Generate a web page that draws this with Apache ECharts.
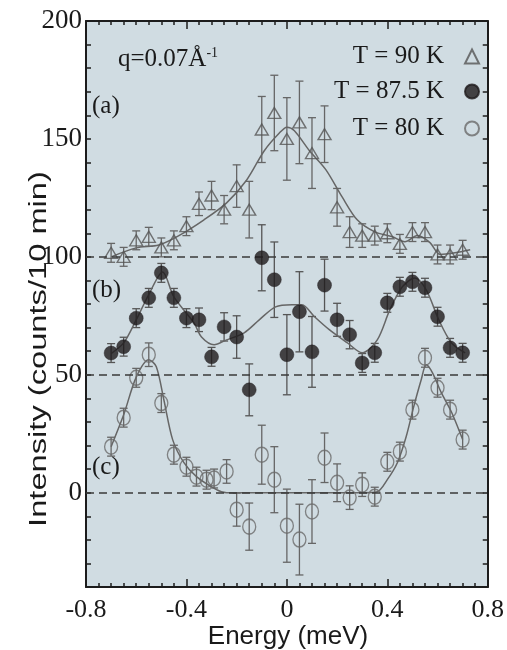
<!DOCTYPE html>
<html>
<head>
<meta charset="utf-8">
<script src="https://cdn.jsdelivr.net/npm/echarts@6/dist/echarts.min.js"></script>
<style>html,body{margin:0;padding:0;background:#fff;}#chart{width:507px;height:650px;}</style>
</head>
<body>
<div id="chart"></div>
<script>
// ---- data ----
const energy90 = [-0.70,-0.65,-0.60,-0.55,-0.50,-0.45,-0.40,-0.35,-0.30,-0.25,-0.20,-0.15,-0.10,-0.05,0.00,0.05,0.10,0.15,0.20,0.25,0.30,0.35,0.40,0.45,0.50,0.55,0.60,0.65,0.70];
const int90    = [101.7,100,107,108.5,104,107,113,122.5,126,120,130,120,154,161,150,157,144,152,121,110.5,109,109,110,105.5,110.5,110.5,101,101,103];
const err90    = [4,4,4,4,4,4,4,5,6,6,9,12,14,16,17.5,17.5,15,12,8,6.5,5,4,4,4,4,4,4,4,4];

const energy875 = [-0.70,-0.65,-0.60,-0.55,-0.50,-0.45,-0.40,-0.35,-0.30,-0.25,-0.20,-0.15,-0.10,-0.05,0.00,0.05,0.10,0.15,0.20,0.25,0.30,0.35,0.40,0.45,0.50,0.55,0.60,0.65,0.70];
const int875    = [59.2,61.9,74,82.6,93.2,82.6,74,73.3,57.6,70.3,66,43.6,99.6,90.3,58.5,76.7,59.7,88,73.3,67,55,59.3,80.5,87.3,89.4,86.9,74.6,61.4,59.3];
const err875    = [4,4,4,4,4,4,4,5,4,6,9,11,14,16,17,17,15,11,7,6,4,4,4,4,4,4,4,4,4];

const energy80 = [-0.70,-0.65,-0.60,-0.55,-0.50,-0.45,-0.40,-0.36,-0.32,-0.29,-0.24,-0.20,-0.15,-0.10,-0.05,0.00,0.05,0.10,0.15,0.20,0.25,0.30,0.35,0.40,0.45,0.50,0.55,0.60,0.65,0.70];
const int80    = [19.5,31.8,48.7,58.5,38,16.1,11,6.8,5.5,6,9,-7.2,-14.4,16.1,5.5,-14,-19.9,-8,14.8,4.2,-2.1,3.4,-1.7,13.1,17.4,35.2,57.2,44.5,35.2,22.5];
const err80    = [4,4,4,5,4,4,4,4,4,4,5,7,10,12.5,14,15.5,15,13.5,10.5,8,5,5,4,4,4,4,4,4,4,4];

// fitted curves
const fit90E = [-0.70,-0.60,-0.51,-0.43,-0.33,-0.24,-0.16,-0.09,-0.03,0.00,0.03,0.09,0.155,0.22,0.28,0.35,0.42,0.47,0.52,0.57,0.61,0.67,0.73];
const fit90I = [100,103.8,105,109,115.7,122.9,132.6,145,152.5,155,153.5,145,137,125.4,115.7,110.6,108.5,106.4,109,106,101,101.7,103];
const fit875E = [-0.70,-0.65,-0.60,-0.55,-0.495,-0.45,-0.37,-0.34,-0.29,-0.24,-0.17,-0.11,-0.045,0.02,0.06,0.11,0.17,0.24,0.30,0.36,0.41,0.46,0.51,0.555,0.605,0.655,0.71];
const fit875I = [59,63.5,73.3,84,93.6,83,72,66,62.7,64.8,67.8,73.3,78.8,79.7,79.7,74.6,69,63.6,59.3,64.8,77.5,87.3,91,86,73.3,63.6,59.3];
const fit80E = [-0.70,-0.65,-0.60,-0.55,-0.52,-0.49,-0.455,-0.41,-0.36,-0.28,-0.24,0.30,0.36,0.40,0.44,0.475,0.505,0.535,0.555,0.58,0.615,0.655,0.70];
const fit80I = [19.5,33,49,56.4,53.4,39.4,22.5,12.7,6.8,1.3,0,0,0.4,5.5,12.7,23.7,36.4,47.9,54.2,50.8,42.4,34.3,22.5];

const baselines = [0, 50, 100];
const xTicks = { min: -0.8, max: 0.8, interval: 0.4 };
const yTicks = { min: -40, max: 200, interval: 10, labelStep: 50 };
const names = ['T = 90 K', 'T = 87.5 K', 'T = 80 K'];

// ---- build ----
const zip2 = (a, b) => a.map((v, i) => [v, b[i]]);
const zip3 = (a, b, c) => a.map((v, i) => [v, b[i], c[i]]);

const serif = 'Liberation Serif, Times New Roman, serif';
const sans = 'Liberation Sans, Arial, sans-serif';
const ink = '#1a1a1a';

function errorSeries(data, color) {
  return {
    type: 'custom',
    data: data,
    z: 2,
    silent: true,
    renderItem: function (params, api) {
      const x = api.value(0), y = api.value(1), e = api.value(2);
      const top = api.coord([x, y + e]);
      const bot = api.coord([x, y - e]);
      const cw = 4;
      const st = { stroke: color, lineWidth: 1.3 };
      return {
        type: 'group',
        children: [
          { type: 'line', shape: { x1: top[0], y1: top[1], x2: bot[0], y2: bot[1] }, style: st },
          { type: 'line', shape: { x1: top[0] - cw, y1: top[1], x2: top[0] + cw, y2: top[1] }, style: st },
          { type: 'line', shape: { x1: bot[0] - cw, y1: bot[1], x2: bot[0] + cw, y2: bot[1] }, style: st }
        ]
      };
    }
  };
}

function fitSeries(E, I, extra) {
  return Object.assign({
    type: 'line', data: zip2(E, I), showSymbol: false, smooth: 0.3, z: 3, silent: true,
    lineStyle: { color: '#666', width: 1.5 }
  }, extra || {});
}

const chart = echarts.init(document.getElementById('chart'), null, { renderer: 'canvas' });

const axisLineStyle = { color: '#1c1c1c', width: 2 };
const tickStyle = { color: '#1c1c1c', width: 1.5 };

function legendFor(name, top) {
  return {
    data: [name], orient: 'vertical', right: 22, top: top, align: 'right',
    itemWidth: 14, itemHeight: 14, selectedMode: false,
    textStyle: { fontFamily: serif, fontSize: 25, color: ink, padding: [0, 16, 0, 0] }
  };
}

const option = {
  animation: false,
  backgroundColor: '#ffffff',
  grid: { left: 86, right: 12, top: 21, bottom: 63, show: true, backgroundColor: '#d0dce2', borderWidth: 0 },
  legend: [legendFor(names[0], 39), legendFor(names[1], 74), legendFor(names[2], 111)],
  xAxis: [
    {
      type: 'value', min: xTicks.min, max: xTicks.max, interval: xTicks.interval,
      axisLine: { show: true, onZero: false, lineStyle: axisLineStyle },
      axisTick: { show: true, inside: true, length: 8, lineStyle: tickStyle },
      minorTick: { show: true, splitNumber: 8, length: 4, lineStyle: tickStyle },
      splitLine: { show: false },
      axisLabel: { fontFamily: serif, fontSize: 26, color: ink, margin: 10,
        formatter: v => (Math.abs(v) < 1e-9 ? '0' : v.toFixed(1)) }
    },
    {
      type: 'value', position: 'top', min: xTicks.min, max: xTicks.max, interval: xTicks.interval,
      axisLine: { show: true, onZero: false, lineStyle: axisLineStyle },
      axisTick: { show: true, inside: true, length: 8, lineStyle: tickStyle },
      minorTick: { show: true, splitNumber: 8, length: 4, lineStyle: tickStyle },
      splitLine: { show: false }, axisLabel: { show: false }
    }
  ],
  yAxis: [
    {
      type: 'value', min: yTicks.min, max: yTicks.max, interval: yTicks.interval,
      axisLine: { show: true, onZero: false, lineStyle: axisLineStyle },
      axisTick: { show: true, inside: true, length: 5, lineStyle: tickStyle },
      splitLine: { show: false },
      axisLabel: { fontFamily: serif, fontSize: 27, color: ink, margin: 4,
        formatter: v => (v % yTicks.labelStep === 0 ? String(v) : '') }
    },
    {
      type: 'value', position: 'right', min: yTicks.min, max: yTicks.max, interval: yTicks.interval,
      axisLine: { show: true, onZero: false, lineStyle: axisLineStyle },
      axisTick: { show: true, inside: true, length: 5, lineStyle: tickStyle },
      splitLine: { show: false }, axisLabel: { show: false }
    }
  ],
  series: [
    fitSeries(fit90E, fit90I, {
      markLine: {
        silent: true, symbol: 'none', animation: false,
        label: { show: false },
        lineStyle: { color: '#3a3a3a', width: 1.5, type: [8, 5] },
        data: baselines.map(b => ({ yAxis: b }))
      }
    }),
    fitSeries(fit875E, fit875I),
    fitSeries(fit80E, fit80I),
    errorSeries(zip3(energy90, int90, err90), '#666'),
    errorSeries(zip3(energy875, int875, err875), '#555'),
    errorSeries(zip3(energy80, int80, err80), '#666'),
    {
      name: names[0], type: 'scatter', data: zip2(energy90, int90), z: 4,
      symbol: 'triangle', symbolSize: [13, 11],
      itemStyle: { color: 'rgba(0,0,0,0)', borderColor: '#555', borderWidth: 1.4 }
    },
    {
      name: names[1], type: 'scatter', data: zip2(energy875, int875), z: 5,
      symbol: 'circle', symbolSize: 14,
      itemStyle: { color: '#1e1a1c', borderColor: '#1e1a1c', borderWidth: 0.5 }
    },
    {
      name: names[2], type: 'scatter', data: zip2(energy80, int80), z: 4,
      symbol: 'circle', symbolSize: [13, 15],
      itemStyle: { color: 'rgba(0,0,0,0)', borderColor: '#6a6a6a', borderWidth: 1.4 }
    }
  ],
  graphic: [
    { type: 'text', left: 118, top: 46, z: 10,
      style: { text: '{m|q=0.07Å}{s|-1}', fill: ink,
        rich: { m: { fontFamily: serif, fontSize: 25, fill: ink, verticalAlign: 'bottom' },
                s: { fontFamily: serif, fontSize: 14, fill: ink, verticalAlign: 'top', padding: [0, 0, 12, 0] } } } },
    { type: 'text', left: 92, top: 94, z: 10, style: { text: '(a)', font: '25px ' + serif, fill: ink } },
    { type: 'text', left: 92, top: 278, z: 10, style: { text: '(b)', font: '25px ' + serif, fill: ink } },
    { type: 'text', left: 92, top: 455, z: 10, style: { text: '(c)', font: '25px ' + serif, fill: ink } },
    { type: 'text', x: 288, y: 637, z: 10,
      style: { text: 'Energy (meV)', font: '26px ' + sans, fill: ink, textAlign: 'center', textVerticalAlign: 'middle' } },
    { type: 'text', x: 40, y: 349, rotation: Math.PI / 2, scaleX: 1.42, z: 10,
      style: { text: 'Intensity (counts/10 min)', font: '23px ' + sans, fill: ink, textAlign: 'center', textVerticalAlign: 'middle' } }
  ]
};
chart.setOption(option);
</script>
</body>
</html>
